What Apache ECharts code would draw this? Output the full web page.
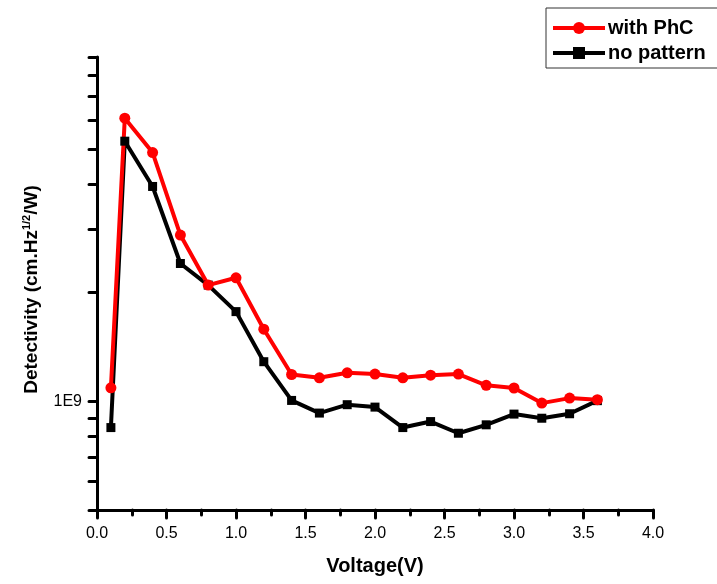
<!DOCTYPE html>
<html>
<head>
<meta charset="utf-8">
<script src="https://cdn.jsdelivr.net/npm/echarts@6/dist/echarts.min.js"></script>
<style>html,body{margin:0;padding:0;background:#fff;}#c{width:717px;height:584px;}</style>
</head>
<body>
<div id="c"></div>
<script>
var voltage = [0.1,0.2,0.4,0.6,0.8,1.0,1.2,1.4,1.6,1.8,2.0,2.2,2.4,2.6,2.8,3.0,3.2,3.4,3.6];
var withPhC = [1.09e9,6.09e9,4.89e9,2.89e9,2.10e9,2.20e9,1.585e9,1.187e9,1.162e9,1.20e9,1.19e9,1.162e9,1.182e9,1.19e9,1.108e9,1.089e9,0.989e9,1.021e9,1.011e9];
var noPattern = [0.846e9,5.26e9,3.94e9,2.41e9,2.10e9,1.773e9,1.288e9,1.006e9,0.928e9,0.979e9,0.964e9,0.846e9,0.879e9,0.816e9,0.861e9,0.922e9,0.898e9,0.924e9,1.0045e9];
var yTicks = [5e8,6e8,7e8,8e8,9e8,1e9,2e9,3e9,4e9,5e9,6e9,7e9,8e9,9e9];
var yLabels = [1e9];
var seriesNames = ['with PhC','no pattern'];

function pairs(xs, ys){ return xs.map(function(x,i){ return [x, ys[i]]; }); }

var chart = echarts.init(document.getElementById('c'));
var font = '"Liberation Sans", Arial, sans-serif';
chart.setOption({
  animation: false,
  backgroundColor: '#fff',
  textStyle: { fontFamily: font },
  grid: { left: 97, right: 64, top: 57, bottom: 74 },
  legend: {
    data: seriesNames,
    orient: 'vertical',
    left: 546, top: 8,
    padding: [10, 20, 5, 5],
    itemGap: 5,
    itemWidth: 52, itemHeight: 15,
    lineStyle: { width: 4 },
    borderColor: '#333', borderWidth: 1,
    textStyle: { fontFamily: font, fontWeight: 'bold', fontSize: 20, color: '#000', padding: [0,0,0,-2] }
  },
  xAxis: {
    type: 'value', min: 0, max: 4, interval: 0.5,
    name: 'Voltage(V)', nameLocation: 'middle', nameGap: 46,
    nameTextStyle: { fontFamily: font, fontWeight: 'bold', fontSize: 20, color: '#000' },
    axisLine: { show: true, lineStyle: { color: '#000', width: 3, cap: 'round' } },
    axisTick: { show: true, inside: false, length: 8, lineStyle: { color: '#000', width: 3, cap: 'round' } },
    minorTick: { show: true, splitNumber: 2, length: 5, lineStyle: { color: '#000', width: 3, cap: 'round' } },
    axisLabel: { color: '#000', fontSize: 16, margin: 16, fontFamily: font, formatter: function(v){ return v.toFixed(1); } },
    splitLine: { show: false }
  },
  yAxis: {
    type: 'log', logBase: 10, min: 5e8, max: 9e9,
    name: '{a|Detectivity (cm.Hz}{s|1/2}{a|/W)}', nameLocation: 'middle', nameGap: 54, nameRotate: 90,
    nameTextStyle: {
      padding: [0, 12, 0, 0],
      rich: {
        a: { fontFamily: font, fontWeight: 'bold', fontSize: 19, color: '#000' },
        s: { fontFamily: font, fontWeight: 'bold', fontSize: 11, color: '#000', padding: [0,0,11,0] }
      }
    },
    axisLine: { show: true, lineStyle: { color: '#000', width: 3, cap: 'round' } },
    axisTick: { show: true, inside: false, length: 8, customValues: yTicks, lineStyle: { color: '#000', width: 3, cap: 'round' } },
    minorTick: { show: false },
    axisLabel: { color: '#000', fontSize: 16, margin: 15, fontFamily: font, customValues: yLabels, formatter: function(v){ return '1E9'; } },
    splitLine: { show: false }
  },
  series: [
    {
      name: 'no pattern', type: 'line', data: pairs(voltage, noPattern),
      symbol: 'rect', symbolSize: 9,
      itemStyle: { color: '#000' },
      lineStyle: { color: '#000', width: 4 }
    },
    {
      name: 'with PhC', type: 'line', data: pairs(voltage, withPhC),
      symbol: 'circle', symbolSize: 11,
      itemStyle: { color: '#ff0000' },
      lineStyle: { color: '#ff0000', width: 4 }
    }
  ]
});
</script>
</body>
</html>
